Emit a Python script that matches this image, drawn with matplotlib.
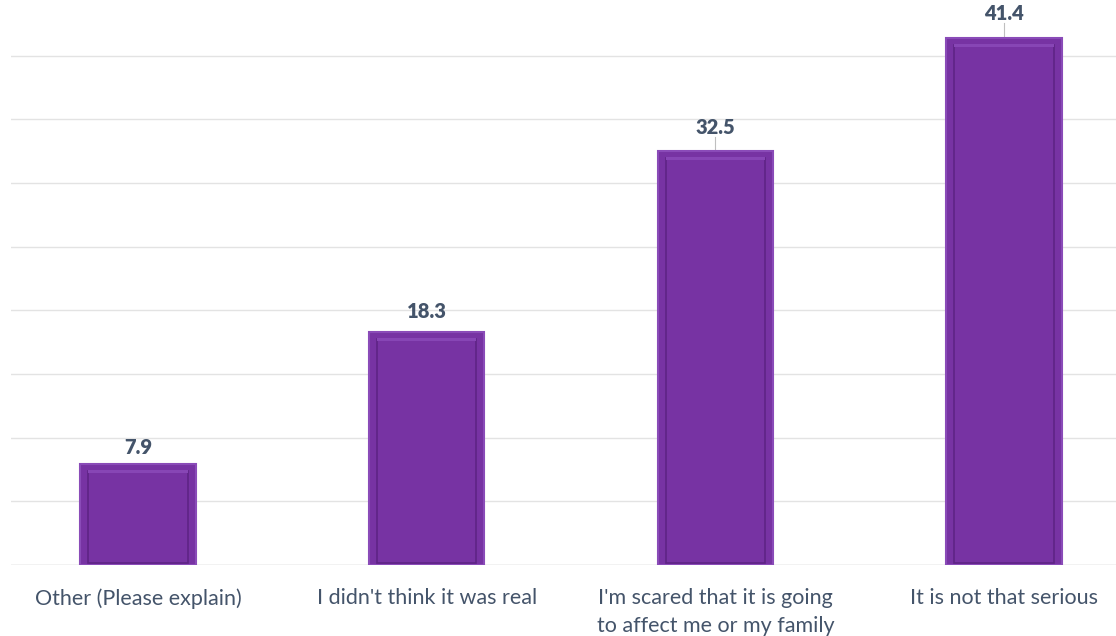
import numpy as np
import matplotlib.pyplot as plt

categories = ["Other (Please explain)", "I didn't think it was real",
              "I'm scared that it is going\nto affect me or my family",
              "It is not that serious"]
values = [7.9, 18.3, 32.5, 41.4]
label_offsets = [0.6, 0.85, 1.1, 1.2]
leader = [False, False, True, True]

BAR = "#7733A3"
TEXT = "#44546A"

plt.rcParams["font.family"] = ["Lato", "DejaVu Sans"]

fig = plt.figure(figsize=(11.16, 6.36), dpi=100)
ax = fig.add_axes([11 / 1116, 1 - 565 / 636, 1 - 11 / 1116, 565 / 636])

x = np.arange(len(values))
width = 0.40
ax.bar(x, values, width=width, color=BAR, edgecolor="#8A4BB8", linewidth=1.5, zorder=2)
# bevel: inner darker outline
inner_h = [v - 0.7 for v in values]
ax.bar(x, inner_h, width=width * 0.86, bottom=0.15, color="none",
       edgecolor="#5E2485", linewidth=1.2, zorder=3)
ax.bar(x, [0.25] * len(values), width=width * 0.86, bottom=inner_h,
       color="#8746B5", linewidth=0, zorder=3)

for xi, v, off, ld in zip(x, values, label_offsets, leader):
    ax.text(xi, v + off, f"{v}", ha="center", va="bottom", fontsize=14.5,
            fontweight="heavy", color=TEXT)
    if ld:
        ax.plot([xi, xi], [v + 0.1, v + off], color="#BFBFBF", lw=0.8, zorder=1)

ax.set_xlim(-(138 - 11) / 289, 3 + (1116 - 1004) / 289)
ax.set_ylim(0, 565 / 12.73)
ax.set_yticks(np.arange(0, 45, 5))
ax.yaxis.grid(True, color="#E3E3E3", linewidth=1)
ax.set_axisbelow(True)
ax.tick_params(axis="y", left=False, labelleft=False)
ax.tick_params(axis="x", bottom=False, pad=13)
ax.set_xticks(x)
ax.set_xticklabels(categories, fontsize=15.5, color=TEXT, linespacing=1.5)
for s in ax.spines.values():
    s.set_visible(False)
ax.axhline(0, color="#D9D9D9", lw=1, zorder=1)

fig.savefig("out.png", dpi=100)
